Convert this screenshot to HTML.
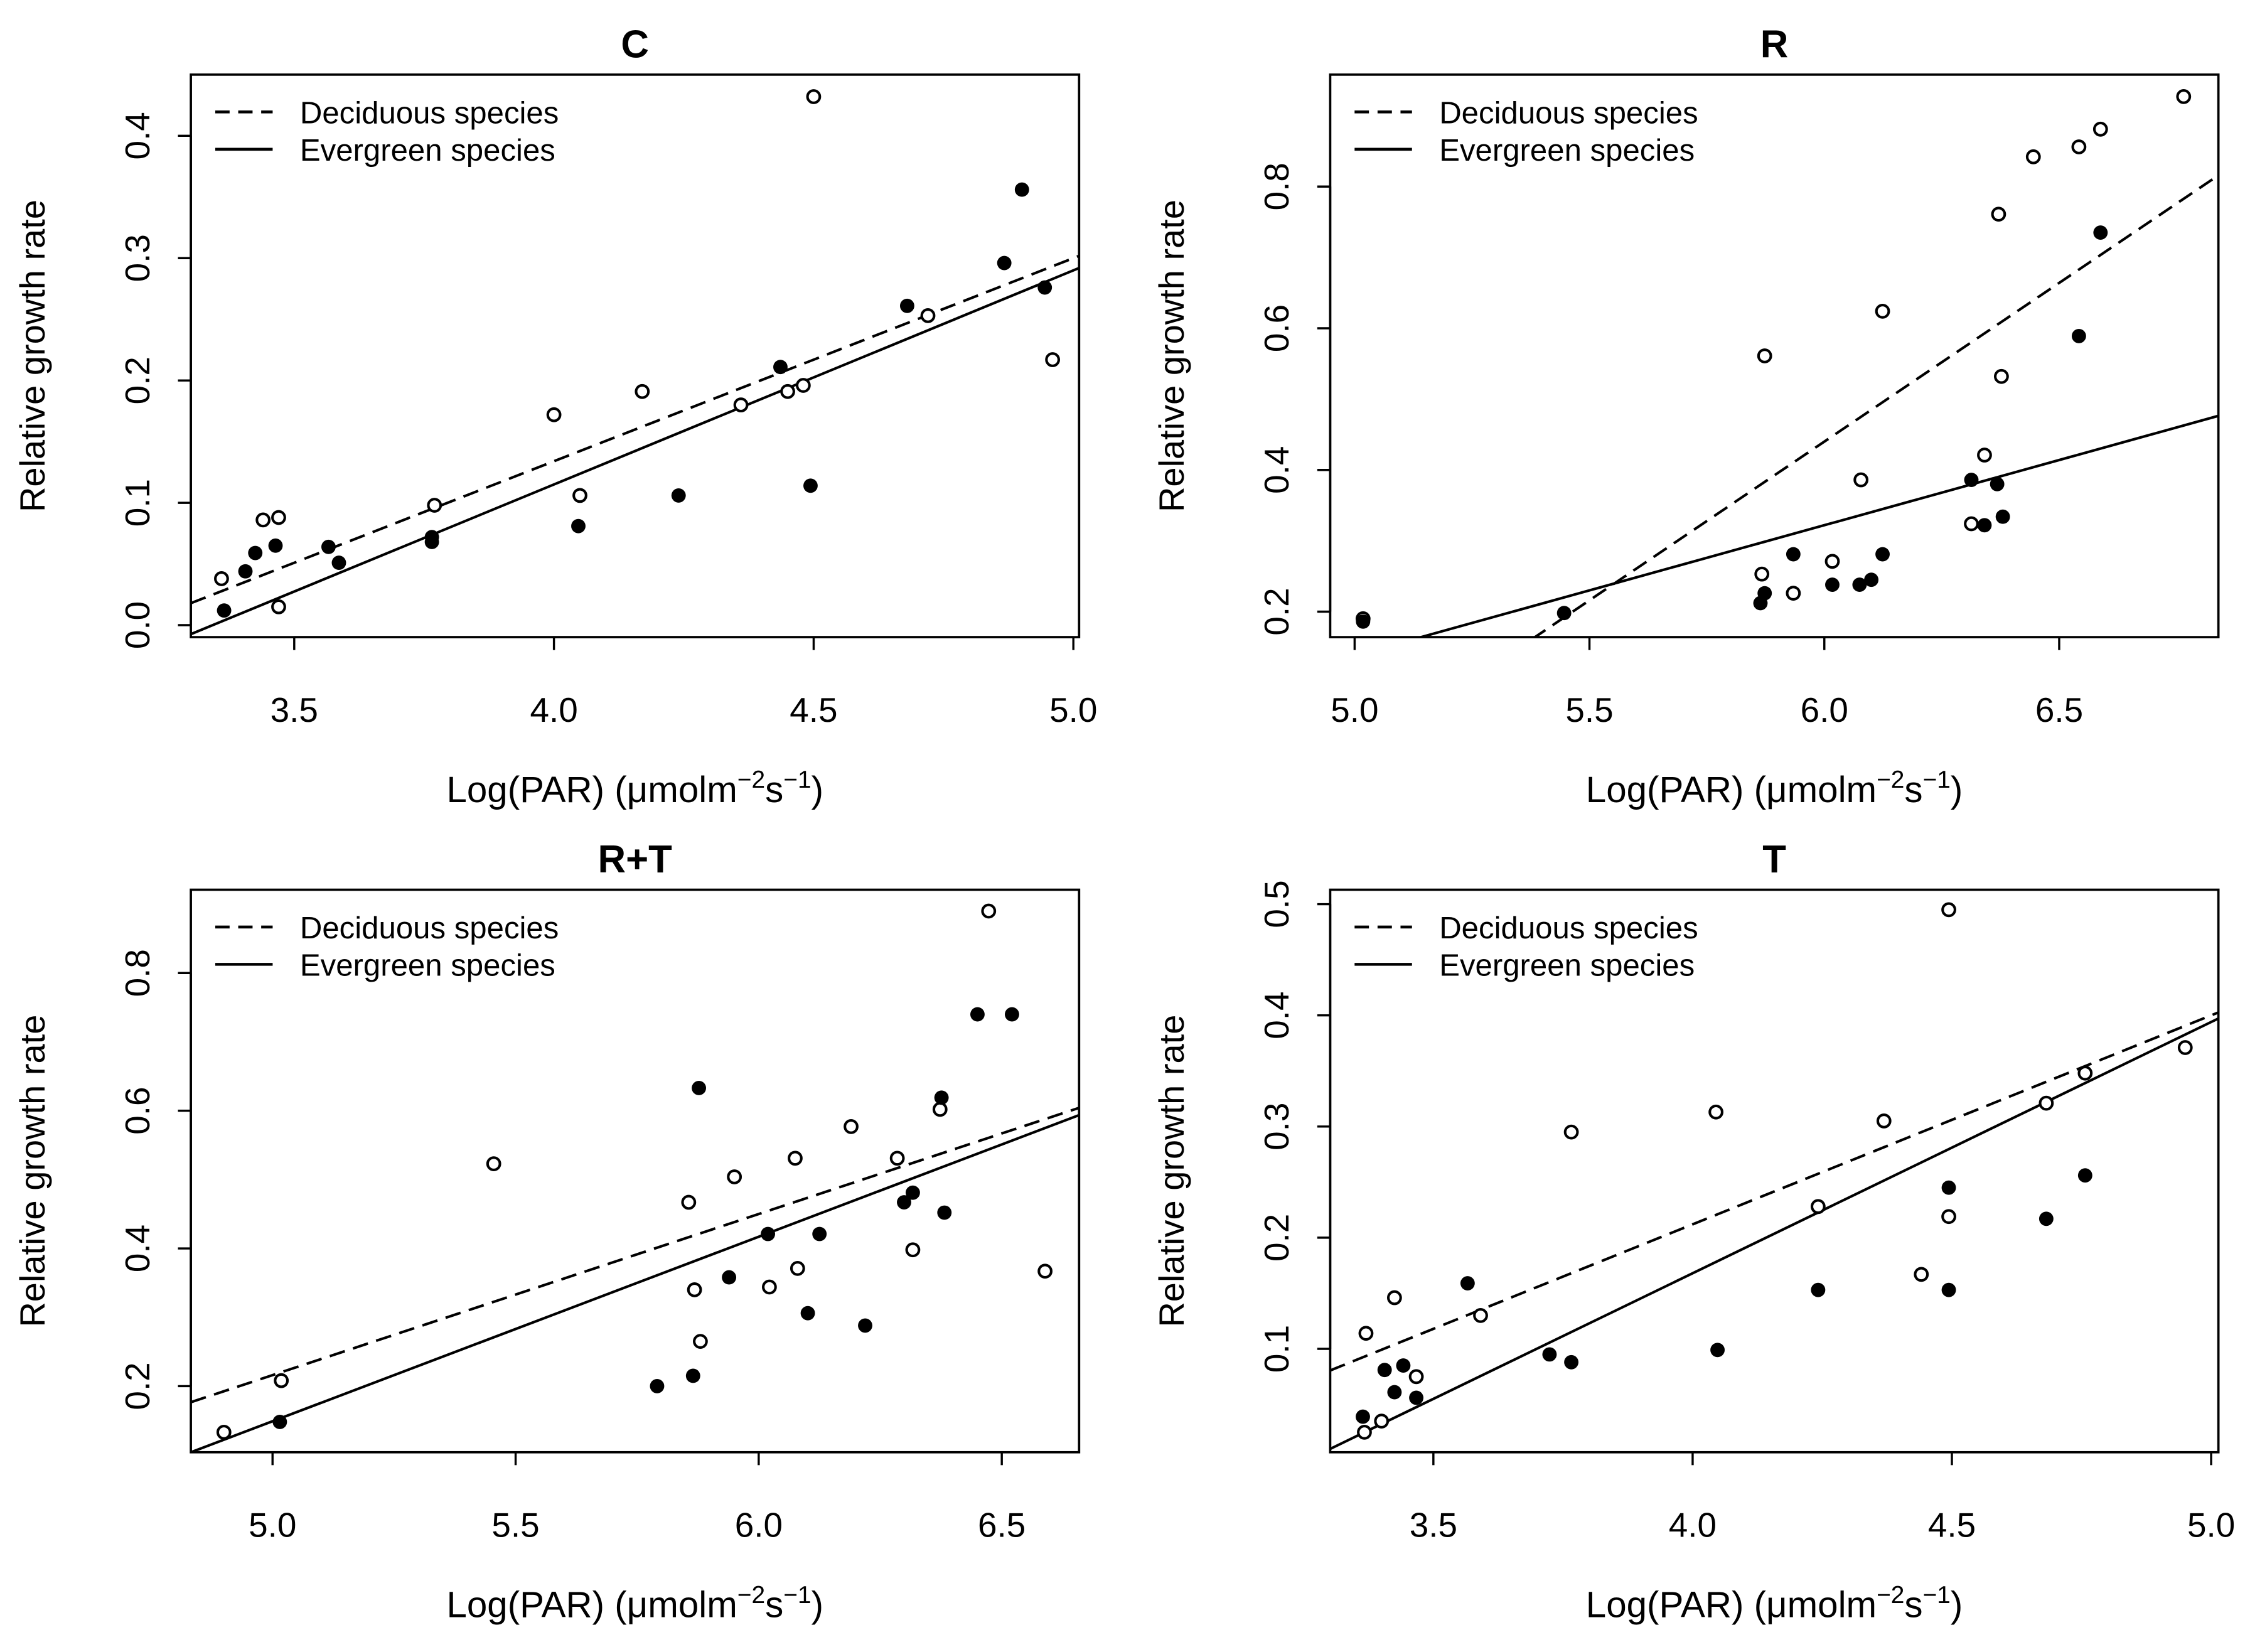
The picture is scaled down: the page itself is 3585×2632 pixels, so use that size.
<!DOCTYPE html>
<html><head><meta charset="utf-8"><style>
html,body{margin:0;padding:0;background:#fff;}
svg{display:block;font-family:"Liberation Sans",Arial,sans-serif;}
</style></head><body>
<svg id="fig" width="3585" height="2632" viewBox="0 0 1568 1151.2" xmlns="http://www.w3.org/2000/svg"></svg>
<script>
// ---- Panel C data ----
const cOpenX=[3.36,3.44,3.47,3.47,3.77,4.00,4.05,4.17,4.36,4.45,4.48,4.50,4.72,4.96];
const cOpenY=[0.038,0.086,0.088,0.015,0.098,0.172,0.106,0.191,0.180,0.191,0.196,0.432,0.253,0.217];
const cFillX=[3.365,3.406,3.425,3.464,3.566,3.586,3.765,3.765,4.047,4.240,4.436,4.494,4.680,4.867,4.901,4.945];
const cFillY=[0.012,0.044,0.059,0.065,0.064,0.051,0.072,0.068,0.081,0.106,0.211,0.114,0.261,0.296,0.356,0.276];
const cLines=[[-0.530,0.166],[-0.585,0.175]];
const cXTicks=[3.5,4.0,4.5,5.0];
const cYTicks=[0.0,0.1,0.2,0.3,0.4];
// ---- Panel R data ----
const rOpenX=[5.018,5.873,5.867,5.934,6.017,6.078,6.124,6.313,6.341,6.371,6.377,6.445,6.542,6.588,6.765];
const rOpenY=[0.190,0.561,0.253,0.226,0.271,0.386,0.624,0.324,0.421,0.761,0.532,0.842,0.856,0.881,0.927];
const rFillX=[5.018,5.446,5.864,5.873,5.934,6.017,6.075,6.100,6.124,6.313,6.341,6.368,6.380,6.542,6.588];
const rFillY=[0.186,0.198,0.212,0.226,0.281,0.238,0.238,0.245,0.281,0.386,0.322,0.380,0.334,0.589,0.735];
const rLines=[[-2.248,0.448],[-0.782,0.184]];
const rXTicks=[5.0,5.5,6.0,6.5];
const rYTicks=[0.2,0.4,0.6,0.8];
// ---- Panel R+T data ----
const rtOpenX=[4.900,5.018,5.455,5.868,5.880,5.856,5.950,6.022,6.075,6.080,6.190,6.285,6.373,6.473,6.317,6.589];
const rtOpenY=[0.133,0.208,0.523,0.340,0.265,0.467,0.504,0.344,0.531,0.371,0.577,0.531,0.602,0.890,0.398,0.367];
const rtFillX=[5.015,5.791,5.865,5.877,5.939,6.019,6.101,6.125,6.219,6.299,6.317,6.376,6.382,6.450,6.521];
const rtFillY=[0.148,0.200,0.215,0.633,0.358,0.421,0.306,0.421,0.288,0.467,0.481,0.619,0.452,0.740,0.740];
const rtLines=[[-0.954,0.234],[-1.191,0.268]];
const rtXTicks=[5.0,5.5,6.0,6.5];
const rtYTicks=[0.2,0.4,0.6,0.8];
// ---- Panel T data ----
const tOpenX=[3.367,3.400,3.370,3.425,3.467,3.591,3.766,4.045,4.369,4.242,4.441,4.494,4.494,4.682,4.757,4.950];
const tOpenY=[0.025,0.035,0.114,0.146,0.075,0.130,0.295,0.313,0.305,0.228,0.167,0.219,0.495,0.321,0.348,0.371];
const tFillX=[3.364,3.406,3.425,3.442,3.467,3.566,3.724,3.766,4.048,4.242,4.494,4.494,4.682,4.757];
const tFillY=[0.039,0.081,0.061,0.085,0.056,0.159,0.095,0.088,0.099,0.153,0.245,0.153,0.217,0.256];
const tLines=[[-0.540,0.188],[-0.736,0.226]];
const tXTicks=[3.5,4.0,4.5,5.0];
const tYTicks=[0.1,0.2,0.3,0.4,0.5];

const NS="http://www.w3.org/2000/svg";
const svg=document.getElementById('fig');
function mk(tag,parent,attrs){const e=document.createElementNS(NS,tag);for(const k in attrs)e.setAttribute(k,attrs[k]);parent.appendChild(e);return e;}

function panel(key,title,box,xd,yd,openX,openY,fillX,fillY,lines,xt,yt){
  const g=mk('g',svg,{});
  
  
  const [L,T,R,B]=box;
  const sx=v=>L+(v-xd[0])/(xd[1]-xd[0])*(R-L);
  const sy=v=>B-(v-yd[0])/(yd[1]-yd[0])*(B-T);
  const cx=(L+R)/2;
  const tt=mk('text',g,{x:cx,y:T-12,'text-anchor':'middle','font-size':27,'font-weight':'bold'});
  tt.textContent=title;
  
  
  const cid='clip-'+key;
  const cp=mk('clipPath',g,{id:cid});mk('rect',cp,{x:L,y:T,width:R-L,height:B-T});
  const lg=mk('g',g,{'clip-path':'url(#'+cid+')'});
  lines.forEach((ln,i)=>{
    const l=mk('line',lg,{x1:sx(xd[0]),y1:sy(ln[0]+ln[1]*xd[0]),x2:sx(xd[1]),y2:sy(ln[0]+ln[1]*xd[1]),stroke:'#000','stroke-width':1.8,'stroke-dasharray':i===0?'11 6':'none'});
    
    
  });
  openX.forEach((x,i)=>{
    const c=mk('circle',g,{cx:sx(x),cy:sy(openY[i]),r:4.3,fill:'#fff',stroke:'#000','stroke-width':1.8});
    
    
  });
  fillX.forEach((x,i)=>{
    const c=mk('circle',g,{cx:sx(x),cy:sy(fillY[i]),r:5,fill:'#000'});
    
    
  });
  const bx=mk('rect',g,{x:L,y:T,width:R-L,height:B-T,fill:'none',stroke:'#000','stroke-width':1.6});
  
  
  const xa=mk('g',g,{});
  
  
  mk('line',xa,{x1:sx(xt[0]),y1:B,x2:sx(xt[xt.length-1]),y2:B,stroke:'#000','stroke-width':1.5});
  xt.forEach(v=>{
    mk('line',xa,{x1:sx(v),y1:B,x2:sx(v),y2:B+9,stroke:'#000','stroke-width':1.5});
    const t=mk('text',xa,{x:sx(v),y:B+59,'text-anchor':'middle','font-size':24});
    t.textContent=v.toFixed(1);
    
    
  });
  const ya=mk('g',g,{});
  
  
  mk('line',ya,{x1:L,y1:sy(yt[0]),x2:L,y2:sy(yt[yt.length-1]),stroke:'#000','stroke-width':1.5});
  yt.forEach(v=>{
    mk('line',ya,{x1:L-9,y1:sy(v),x2:L,y2:sy(v),stroke:'#000','stroke-width':1.5});
    const t=mk('text',ya,{x:L-29,y:sy(v),'text-anchor':'middle','font-size':24,transform:'rotate(-90 '+(L-29)+' '+sy(v)+')'});
    t.textContent=v.toFixed(1);
    
    
  });
  const yl=mk('text',g,{x:L-102,y:(T+B)/2,'text-anchor':'middle','font-size':24.5,transform:'rotate(-90 '+(L-102)+' '+(T+B)/2+')'});
  yl.textContent='Relative growth rate';
  
  
  const xl=mk('text',g,{x:cx,y:B+115,'text-anchor':'middle','font-size':25.5});
  
  
  xl.innerHTML='Log(PAR) (μmolm<tspan dy="-10" font-size="17">−2</tspan><tspan dy="10">s</tspan><tspan dy="-10" font-size="17">−1</tspan><tspan dy="10">)</tspan>';
  const lgd=mk('g',g,{});
  
  
  mk('line',lgd,{x1:L+17,y1:T+26,x2:L+57,y2:T+26,stroke:'#000','stroke-width':2,'stroke-dasharray':'10 6'});
  mk('line',lgd,{x1:L+17,y1:T+52,x2:L+57,y2:T+52,stroke:'#000','stroke-width':2});
  const t1=mk('text',lgd,{x:L+76,y:T+34,'font-size':21.5});t1.textContent='Deciduous species';
  
  
  const t2=mk('text',lgd,{x:L+76,y:T+60,'font-size':21.5});t2.textContent='Evergreen species';
  
  
}
panel('c','C',[133,52,752,444],[3.301,5.011],[-0.0098,0.450],cOpenX,cOpenY,cFillX,cFillY,cLines,cXTicks,cYTicks);
panel('r','R',[927,52,1546,444],[4.948,6.839],[0.164,0.958],rOpenX,rOpenY,rFillX,rFillY,rLines,rXTicks,rYTicks);
panel('rt','R+T',[133,620,752,1012],[4.832,6.659],[0.104,0.921],rtOpenX,rtOpenY,rtFillX,rtFillY,rtLines,rtXTicks,rtYTicks);
panel('t','T',[927,620,1546,1012],[3.301,5.014],[0.007,0.513],tOpenX,tOpenY,tFillX,tFillY,tLines,tXTicks,tYTicks);
</script>
</body></html>
